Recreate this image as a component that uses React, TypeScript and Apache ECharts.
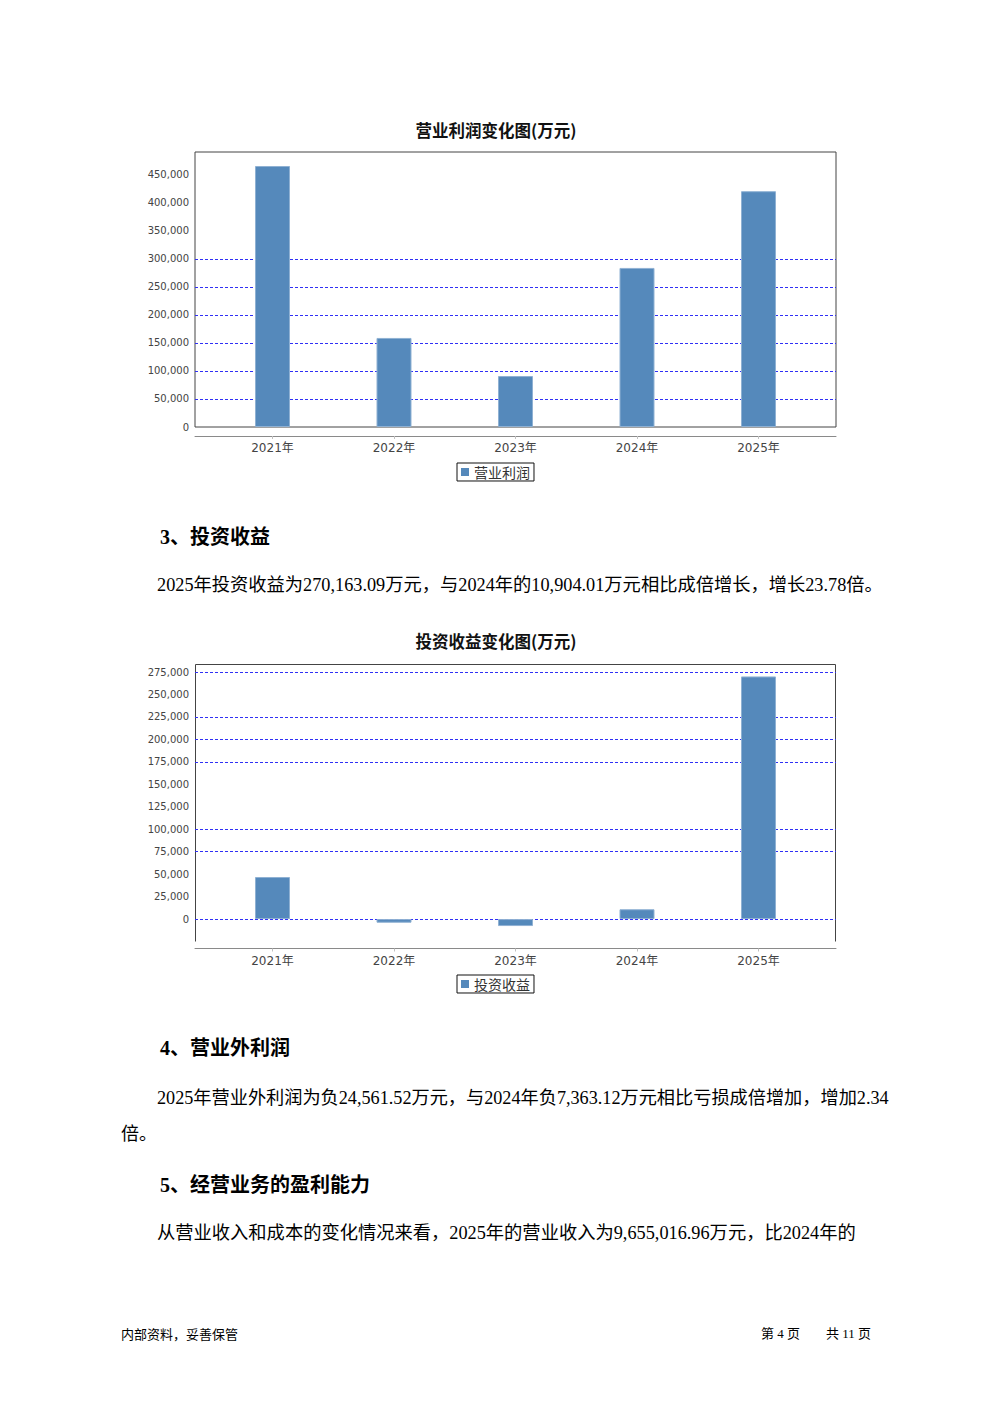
import React, { useEffect, useRef } from "react";
import * as echarts from "echarts";

const categories = ["2021年", "2022年", "2023年", "2024年", "2025年"];
const operatingProfit = [466000, 159000, 91000, 284000, 421000];
const investmentIncome = [46800, -4100, -7800, 10904.01, 270163.09];

const profitMin = 0;
const profitMax = 491000;
const profitInterval = 50000;
const profitGridlines = [50000, 100000, 150000, 200000, 250000, 300000];

const incomeMin = -25000;
const incomeMax = 284000;
const incomeInterval = 25000;
const incomeGridlines = [0, 75000, 100000, 175000, 200000, 225000, 275000];

const profitTitle = "营业利润变化图(万元)";
const incomeTitle = "投资收益变化图(万元)";
const profitName = "营业利润";
const incomeName = "投资收益";

const heading3 = "3、投资收益";
const para3 = "2025年投资收益为270,163.09万元，与2024年的10,904.01万元相比成倍增长，增长23.78倍。";
const heading4 = "4、营业外利润";
const para4a = "2025年营业外利润为负24,561.52万元，与2024年负7,363.12万元相比亏损成倍增加，增加2.34";
const para4b = "倍。";
const heading5 = "5、经营业务的盈利能力";
const para5 = "从营业收入和成本的变化情况来看，2025年的营业收入为9,655,016.96万元，比2024年的";
const footerLeft = "内部资料，妥善保管";
const footerPage = "第 4 页";
const footerTotal = "共 11 页";

const BAR = "#5589bb";
const GRID = "#3030f5";
const BODY_FONT = "'Liberation Serif', 'Noto Sans CJK SC', serif";
const CJK_FONT = "'Noto Sans CJK SC', 'DejaVu Sans', sans-serif";
const AXIS_FONT = "'DejaVu Sans', 'Noto Sans CJK SC', sans-serif";

// Tick values as ECharts produces them when interval is set (extent max appended).
function axisTicks(min: number, max: number, interval: number): number[] {
  const out: number[] = [];
  let v = min;
  while (v <= max + 1e-9) {
    out.push(v);
    v += interval;
  }
  if (out[out.length - 1] < max) out.push(max);
  return out;
}

function gridColors(min: number, max: number, interval: number, shown: number[]): string[] {
  return axisTicks(min, max, interval).map((t) => (shown.includes(t) ? GRID : "rgba(0,0,0,0)"));
}

function fmt(v: number, interval: number): string {
  if (Math.abs(v % interval) > 1e-6) return "";
  if (v < 0) return "";
  return v.toLocaleString("en-US");
}

function chartBlock(opts: {
  top: number;
  height: number;
  min: number;
  max: number;
  interval: number;
  gridlines: number[];
  gIndex: number;
  axisOffset: number;
}) {
  const { top, height, min, max, interval, gridlines, gIndex, axisOffset } = opts;
  const outer = { left: 195, top, width: 641, height };
  const inner = { left: 211.75, top, width: 607.5, height };
  const grids = [
    { ...outer, show: gIndex === 0, borderColor: "#444", borderWidth: 1, backgroundColor: "transparent" },
    { ...inner, show: false },
  ];
  const xAxes = [
    {
      gridIndex: gIndex,
      type: "value",
      min: 0,
      max: 1,
      offset: axisOffset,
      axisLine: { show: true, onZero: false, lineStyle: { color: "#8a8a8a", width: 1 } },
      axisTick: { show: false },
      axisLabel: { show: false },
      splitLine: { show: false },
    },
    {
      gridIndex: gIndex + 1,
      type: "category",
      data: categories,
      offset: axisOffset,
      axisLine: { show: false, onZero: false },
      axisTick: { show: true, alignWithLabel: true, length: 3, lineStyle: { color: "#c0c0c0" } },
      axisLabel: { fontSize: 12, color: "#444", margin: 6, fontFamily: AXIS_FONT },
      splitLine: { show: false },
    },
  ];
  const yAxes = [
    {
      gridIndex: gIndex,
      type: "value",
      min,
      max,
      interval,
      axisLine: { show: false, onZero: false },
      axisTick: { show: false },
      axisLabel: {
        fontSize: 10,
        color: "#444",
        margin: 6,
        fontFamily: AXIS_FONT,
        formatter: (v: number) => fmt(v, interval),
      },
      splitLine: {
        show: true,
        lineStyle: { color: gridColors(min, max, interval, gridlines), type: [3, 2], width: 1 },
      },
    },
    { gridIndex: gIndex + 1, type: "value", min, max, interval, show: false, splitLine: { show: false } },
  ];
  return { grids, xAxes, yAxes };
}

export default function App() {
  const ref = useRef<HTMLDivElement>(null);
  useEffect(() => {
    if (!ref.current) return;
    const chart = echarts.init(ref.current, undefined, { renderer: "svg" });
    const c1 = chartBlock({
      top: 152,
      height: 275,
      min: profitMin,
      max: profitMax,
      interval: profitInterval,
      gridlines: profitGridlines,
      gIndex: 0,
      axisOffset: 9,
    });
    const c2 = chartBlock({
      top: 664,
      height: 277.5,
      min: incomeMin,
      max: incomeMax,
      interval: incomeInterval,
      gridlines: incomeGridlines,
      gIndex: 2,
      axisOffset: 7,
    });
    const barStyle = { color: BAR, borderColor: "#8fb1d3", borderWidth: 1 };
    const textEl = (
      text: string,
      x: number,
      y: number,
      size: number,
      family: string,
      weight: string = "normal",
      align: string = "left",
      scaleX: number = 1
    ) => ({
      type: "text",
      x,
      y,
      scaleX,
      silent: true,
      style: {
        text,
        fontSize: size,
        fontFamily: family,
        fontWeight: weight,
        fill: "#000",
        align,
        verticalAlign: "middle",
      },
    });
    const legendBase = {
      icon: "rect",
      itemWidth: 8,
      itemHeight: 8,
      itemGap: 4,
      padding: [2, 4, 2, 4],
      borderColor: "#111",
      borderWidth: 1,
      selectedMode: false,
      itemStyle: { borderWidth: 0 },
      textStyle: { fontSize: 14, color: "#333", fontFamily: CJK_FONT },
    };
    chart.setOption({
      animation: false,
      backgroundColor: "#fff",
      title: [
        {
          text: profitTitle,
          left: "center",
          top: 117,
          textStyle: { fontSize: 16.5, fontWeight: "bold", color: "#111", fontFamily: CJK_FONT },
        },
        {
          text: incomeTitle,
          left: "center",
          top: 628,
          textStyle: { fontSize: 16.5, fontWeight: "bold", color: "#111", fontFamily: CJK_FONT },
        },
      ],
      legend: [
        { ...legendBase, data: [profitName], left: 457, top: 463 },
        { ...legendBase, data: [incomeName], left: 457, top: 975 },
      ],
      grid: [...c1.grids, ...c2.grids],
      xAxis: [...c1.xAxes, ...c2.xAxes],
      yAxis: [...c1.yAxes, ...c2.yAxes],
      series: [
        {
          name: profitName,
          type: "bar",
          xAxisIndex: 1,
          yAxisIndex: 1,
          data: operatingProfit,
          barWidth: 35,
          itemStyle: barStyle,
        },
        {
          name: incomeName,
          type: "bar",
          xAxisIndex: 3,
          yAxisIndex: 3,
          data: investmentIncome,
          barWidth: 35,
          itemStyle: barStyle,
        },
      ],
      graphic: [
        {
          type: "polyline",
          silent: true,
          shape: { points: [[195.5, 941.5], [195.5, 664.5], [835.5, 664.5], [835.5, 941.5]] },
          style: { stroke: "#444", lineWidth: 1, fill: null },
        },
        textEl(heading3, 160, 537, 20, BODY_FONT, "bold"),
        textEl(para3, 157, 585, 18, BODY_FONT, "normal", "left", 1.015),
        textEl(heading4, 160, 1048, 20, BODY_FONT, "bold"),
        textEl(para4a, 157, 1098, 18, BODY_FONT, "normal", "left", 1.011),
        textEl(para4b, 121, 1134, 18, BODY_FONT),
        textEl(heading5, 160, 1185, 20, BODY_FONT, "bold"),
        textEl(para5, 157, 1233, 18, BODY_FONT, "normal", "left", 1.016),
        textEl(footerLeft, 121, 1333, 13, CJK_FONT),
        textEl(footerPage, 761, 1333, 13, BODY_FONT),
        textEl(footerTotal, 871, 1333, 13, BODY_FONT, "normal", "right"),
      ],
    });
    return () => chart.dispose();
  }, []);
  return (
    <div
      ref={ref}
      style={{ position: "absolute", left: 0, top: 0, width: 992, height: 1403, background: "#fff" }}
    />
  );
}
